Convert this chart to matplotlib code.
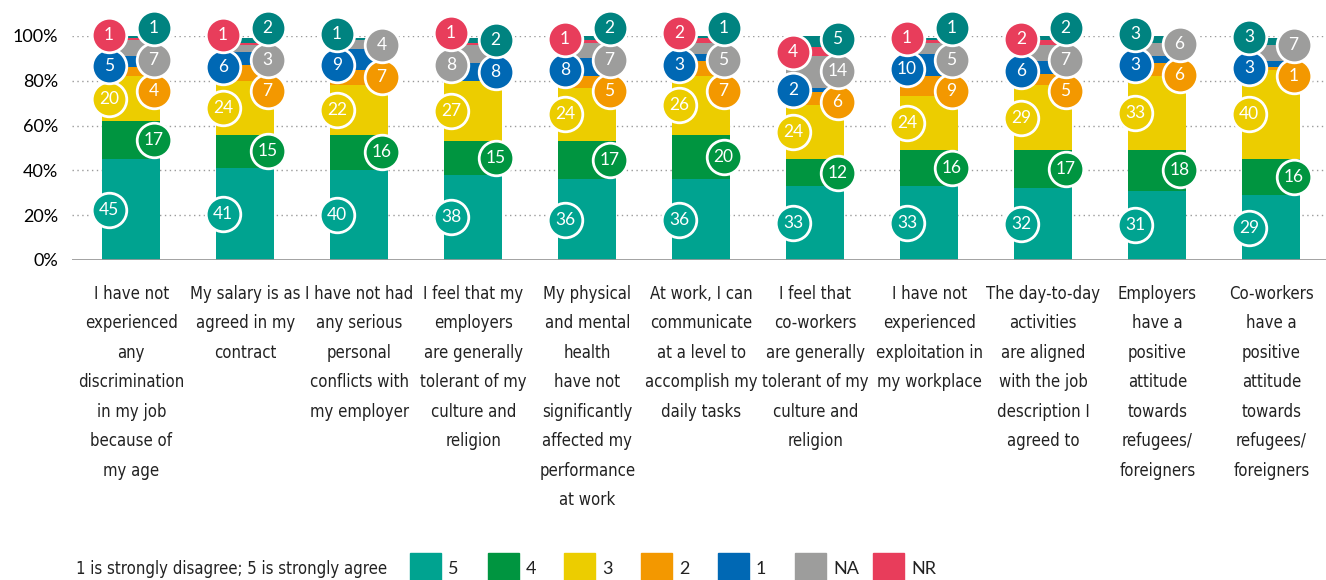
import matplotlib
matplotlib.use('Agg')
import matplotlib.pyplot as plt
from matplotlib.patches import Rectangle
import numpy as np

categories = [
    "I have not\nexperienced\nany\ndiscrimination\nin my job\nbecause of\nmy age",
    "My salary is as\nagreed in my\ncontract",
    "I have not had\nany serious\npersonal\nconflicts with\nmy employer",
    "I feel that my\nemployers\nare generally\ntolerant of my\nculture and\nreligion",
    "My physical\nand mental\nhealth\nhave not\nsignificantly\naffected my\nperformance\nat work",
    "At work, I can\ncommunicate\nat a level to\naccomplish my\ndaily tasks",
    "I feel that\nco-workers\nare generally\ntolerant of my\nculture and\nreligion",
    "I have not\nexperienced\nexploitation in\nmy workplace",
    "The day-to-day\nactivities\nare aligned\nwith the job\ndescription I\nagreed to",
    "Employers\nhave a\npositive\nattitude\ntowards\nrefugees/\nforeigners",
    "Co-workers\nhave a\npositive\nattitude\ntowards\nrefugees/\nforeigners",
]

# answer shares in %, bottom of the stack first
score5 = [45, 41, 40, 38, 36, 36, 33, 33, 32, 31, 29]
score4 = [17, 15, 16, 15, 17, 20, 12, 16, 17, 18, 16]
score3 = [20, 24, 22, 27, 24, 26, 24, 24, 29, 33, 40]
score2 = [4, 7, 7, 0, 5, 7, 6, 9, 5, 6, 1]
score1 = [5, 6, 9, 8, 8, 3, 2, 10, 6, 3, 3]
no_answer = [7, 3, 4, 8, 7, 5, 14, 5, 7, 6, 7]
no_response = [1, 1, 0, 1, 1, 2, 4, 1, 2, 0, 0]
other = [1, 2, 1, 2, 2, 1, 5, 1, 2, 3, 3]

legend_labels = ["5", "4", "3", "2", "1", "NA", "NR"]
series = [score5, score4, score3, score2, score1, no_answer, no_response, other]
colors = ['#00a390', '#009540', '#eccd00', '#f39800', '#0068b4',
          '#9d9d9c', '#e83d5b', '#008380']

narrow = ['DejaVu Sans']   # used with fontstretch='condensed'
round_font = ['Lato', 'DejaVu Sans']


def spread(targets, gap=14, cap=103.5):
    # push circle labels apart so they don't pile on top of each other
    pos = list(targets)
    order = np.argsort(targets)
    for _ in range(400):
        for a, b in zip(order[:-1], order[1:]):
            d = gap - (pos[b] - pos[a])
            if d > 0:
                pos[a] -= d / 2
                pos[b] += d / 2
        if pos[order[-1]] > cap:
            pos[order[-1]] = cap
    return pos


fig = plt.figure(figsize=(13.26, 5.8), dpi=100)
ax = fig.add_axes([72 / 1326, 1 - 260 / 580, 1 - 72 / 1326, 224 / 580])

x = np.arange(len(categories))
width = 0.51
bottom = np.zeros(len(categories))
for vals, col in zip(series, colors):
    ax.bar(x, vals, width, bottom=bottom, color=col, zorder=2)
    bottom += np.array(vals)

# label circles, alternating left/right edge of each bar
off = width / 2 - 0.06
for i in range(len(categories)):
    vals = [s[i] for s in series]
    starts = np.cumsum([0] + vals[:-1])
    items = []
    side = 0
    for k, v in enumerate(vals):
        if v == 0:
            continue
        s = side % 2
        side += 1
        if i == 3 and k == 6:
            s = 0
        if i == 3 and k == 7:
            s = 1
        items.append((k, v, starts[k] + v / 2, s))
    for s in (0, 1):
        grp = [it for it in items if it[3] == s]
        ys = spread([it[2] for it in grp])
        for (k, v, _, _), yy in zip(grp, ys):
            xx = x[i] - off if s == 0 else x[i] + off
            ax.scatter(xx, yy, s=620, color=colors[k], edgecolor='white',
                       linewidth=2, zorder=5, clip_on=False)
            ax.text(xx, yy, str(v), color='white', fontsize=12.5,
                    family=round_font, ha='center', va='center', zorder=6)

ax.set_xlim(-0.52, 10.48)
ax.set_ylim(0, 100)
ax.set_yticks([0, 20, 40, 60, 80, 100])
ax.set_yticklabels([f"{v}%" for v in [0, 20, 40, 60, 80, 100]],
                   family=round_font, fontsize=13)
for yv in [20, 40, 60, 80, 100]:
    ax.axhline(yv, color='#9a9a9a', lw=1, ls=(0, (1, 2.5)), zorder=1)
ax.axhline(0, color='#999999', lw=2, zorder=3)
ax.set_xticks(x)
ax.set_xticklabels(categories, family=narrow, fontstretch='condensed',
                   fontsize=12, linespacing=1.82, color='#222222')
ax.tick_params(length=0)
ax.tick_params(axis='y', pad=10)
ax.tick_params(axis='x', pad=18)
for sp in ax.spines.values():
    sp.set_visible(False)

# legend along the bottom edge
sq_x = [410, 488, 564, 641, 718, 795, 873]
for lx, lab, col in zip(sq_x, legend_labels, colors):
    fig.patches.append(Rectangle((lx / 1326, 1 - 585 / 580), 31 / 1326, 32 / 580,
                                 transform=fig.transFigure, color=col))
    fig.text((lx + 38) / 1326, 1 - 569 / 580, lab, family=round_font,
             fontsize=13, va='center', ha='left', color='#222222')

fig.text(76 / 1326, 1 - 569 / 580, "1 is strongly disagree; 5 is strongly agree",
         family=narrow, fontstretch='condensed', fontsize=12, va='center',
         ha='left', color='#222222')

fig.savefig('out.png', dpi=100)
